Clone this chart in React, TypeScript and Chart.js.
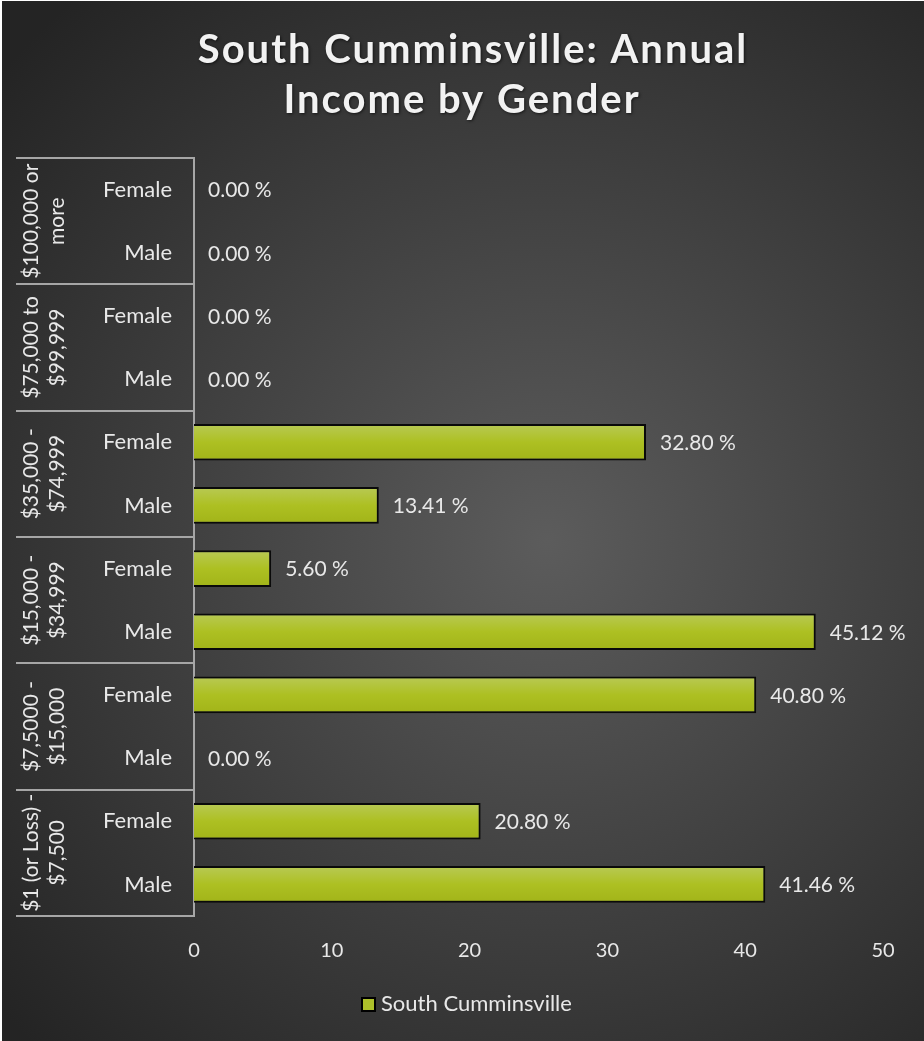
import React, { useEffect, useRef } from "react";
import { Chart, registerables } from "chart.js";

Chart.register(...registerables);

const titleLines = ["South Cumminsville: Annual", "Income by Gender"];
const seriesName = "South Cumminsville";
const incomeGroups: string[][] = [
  ["$100,000 or", "more"],
  ["$75,000 to", "$99,999"],
  ["$35,000 -", "$74,999"],
  ["$15,000 -", "$34,999"],
  ["$7,5000 -", "$15,000"],
  ["$1 (or Loss) -", "$7,500"],
];
const genders = ["Female", "Male"];
const percentValues = [0.0, 0.0, 0.0, 0.0, 32.8, 13.41, 5.6, 45.12, 40.8, 0.0, 20.8, 41.46];
const xTicks = [0, 10, 20, 30, 40, 50];

const FONT = "Lato, 'Open Sans', sans-serif";
const TEXT = "#e8e8e8";

const labels: string[] = [];
incomeGroups.forEach(() => genders.forEach((g) => labels.push(g)));

const bgPlugin = {
  id: "bgPlugin",
  beforeDraw(chart: any) {
    const { ctx, width, height } = chart;
    const g = ctx.createRadialGradient(545, 540, 0, 545, 540, 720);
    g.addColorStop(0, "#5c5c5c");
    g.addColorStop(1, "#242424");
    ctx.save();
    ctx.fillStyle = g;
    ctx.fillRect(0, 0, width, height);
    ctx.restore();
  },
};

const decorPlugin = {
  id: "decorPlugin",
  afterDraw(chart: any) {
    const { ctx, chartArea } = chart;
    const y = chart.scales.y;
    ctx.save();
    ctx.fillStyle = "#f2f2f2";
    ctx.font = `bold 40px ${FONT}`;
    (ctx as any).letterSpacing = "2px";
    ctx.textAlign = "center";
    ctx.textBaseline = "alphabetic";
    ctx.shadowColor = "rgba(0,0,0,0.6)";
    ctx.shadowBlur = 3;
    ctx.shadowOffsetX = 1;
    ctx.shadowOffsetY = 1;
    ctx.fillText(titleLines[0], 471, 62);
    ctx.fillText(titleLines[1], 460, 112);
    ctx.restore();

    ctx.save();
    const slot = y.getPixelForValue(1) - y.getPixelForValue(0);
    ctx.strokeStyle = "#a6a6a6";
    ctx.lineWidth = 2;
    for (let i = 0; i <= incomeGroups.length; i++) {
      const yy = Math.round(y.getPixelForValue(i * 2) - slot / 2);
      ctx.beginPath();
      ctx.moveTo(14, yy);
      ctx.lineTo(chartArea.left, yy);
      ctx.stroke();
    }
    ctx.fillStyle = TEXT;
    ctx.font = `21px ${FONT}`;
    ctx.textAlign = "center";
    ctx.textBaseline = "middle";
    incomeGroups.forEach((lines, i) => {
      const top = y.getPixelForValue(i * 2) - slot / 2;
      const bottom = y.getPixelForValue(i * 2 + 1) + slot / 2;
      const cy = (top + bottom) / 2;
      lines.forEach((ln, j) => {
        ctx.save();
        ctx.translate(28 + j * 26, cy);
        ctx.rotate(-Math.PI / 2);
        ctx.fillText(ln, 0, 1);
        ctx.restore();
      });
    });
    ctx.restore();

    ctx.save();
    const lx = 360;
    const ly = 997;
    ctx.fillStyle = "#adc02a";
    ctx.strokeStyle = "#000";
    ctx.lineWidth = 2;
    ctx.fillRect(lx, ly, 13, 13);
    ctx.strokeRect(lx, ly, 13, 13);
    ctx.fillStyle = TEXT;
    ctx.font = `22px ${FONT}`;
    ctx.textAlign = "left";
    ctx.textBaseline = "middle";
    ctx.fillText(chart.data.datasets[0].label, lx + 19, ly + 6);
    ctx.restore();
  },
  afterDatasetsDraw(chart: any) {
    const { ctx } = chart;
    const meta = chart.getDatasetMeta(0);
    const data = chart.data.datasets[0].data;
    ctx.save();
    ctx.fillStyle = TEXT;
    ctx.font = `21px ${FONT}`;
    ctx.textAlign = "left";
    ctx.textBaseline = "middle";
    meta.data.forEach((bar: any, i: number) => {
      const v = data[i] as number;
      ctx.fillText(`${v.toFixed(2)} %`, bar.x + 14, bar.y + 1);
    });
    ctx.restore();
  },
};

export default function App() {
  const ref = useRef<HTMLCanvasElement>(null);
  useEffect(() => {
    if (!ref.current) return;
    const chart = new Chart(ref.current, {
      type: "bar",
      data: {
        labels,
        datasets: [
          {
            label: seriesName,
            data: percentValues,
            backgroundColor: (c: any) => {
              const ch = c.chart;
              const ys = ch.scales && ch.scales.y;
              if (!ys || c.dataIndex === undefined) return "#adc02a";
              const cy = ys.getPixelForValue(c.dataIndex);
              if (!Number.isFinite(cy)) return "#adc02a";
              const g = ch.ctx.createLinearGradient(0, cy - 18, 0, cy + 18);
              g.addColorStop(0, "#b8c954");
              g.addColorStop(0.5, "#adc022");
              g.addColorStop(1, "#a2b419");
              return g;
            },
            borderColor: "#0a0a0a",
            borderWidth: 2,
            categoryPercentage: 1,
            barPercentage: 0.58,
          },
        ],
      },
      options: {
        indexAxis: "y",
        animation: false,
        responsive: false,
        maintainAspectRatio: false,
        layout: { padding: { top: 157, bottom: 65, left: 0, right: 41 } },
        plugins: {
          legend: { display: false },
          title: { display: false },
          tooltip: { enabled: false },
        },
        scales: {
          x: {
            min: 0,
            max: 50,
            afterBuildTicks: (s: any) => {
              s.ticks = xTicks.map((v) => ({ value: v }));
            },
            afterFit: (s: any) => {
              s.height = 60;
            },
            grid: { display: false, drawTicks: false },
            border: { display: false },
            ticks: { color: TEXT, font: { family: FONT, size: 20 }, padding: 23 },
          },
          y: {
            afterFit: (s: any) => {
              s.width = 192;
            },
            grid: { display: false, drawTicks: false },
            border: { display: true, color: "#a6a6a6", width: 2 },
            ticks: { color: TEXT, font: { family: FONT, size: 22 }, padding: 22, autoSkip: false },
          },
        },
      },
      plugins: [bgPlugin, decorPlugin],
    } as any);
    return () => chart.destroy();
  }, []);
  return (
    <div style={{ position: "absolute", left: 2, top: 1, width: 922, height: 1040 }}>
      <canvas ref={ref} width={922} height={1040} style={{ width: 922, height: 1040, display: "block" }} />
    </div>
  );
}
